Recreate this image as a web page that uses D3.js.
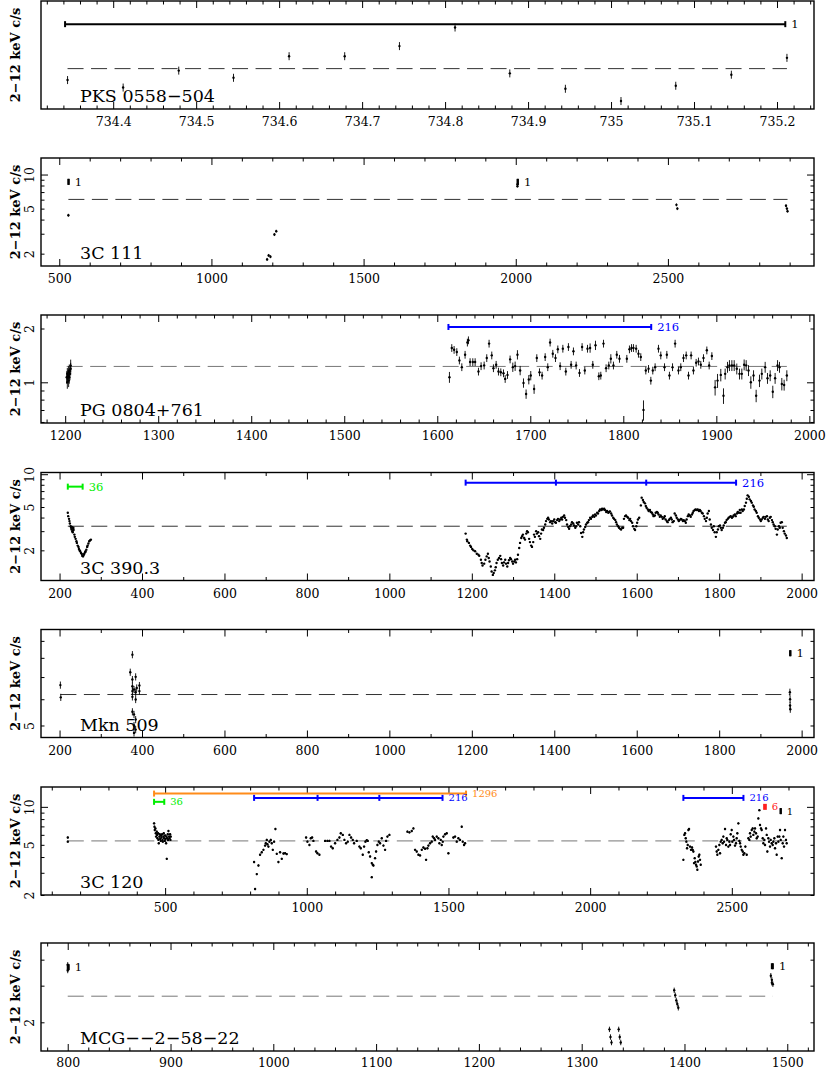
<!DOCTYPE html>
<html>
<head>
<meta charset="utf-8">
<script src="https://cdn.jsdelivr.net/npm/d3@7"></script>
<style>
  body { margin: 0; background: #fff; }
  svg text { font-family: "DejaVu Serif", serif; }
</style>
</head>
<body>
<div id="chart"></div>
<script>
// ---- data (day, 2-12 keV count rate) ----
const sourceNames = ["PKS 0558\u2212504", "3C 111", "PG 0804+761", "3C 390.3", "Mkn 509", "3C 120", "MCG\u2212\u22122\u221258\u221222"];
const meanRates = [3.394, 6.03, 1.227, 3.33, 6.20, 5.37, 2.67];
const relErr = [0.009, 0.03, 0.06, 0.012, 0.025, 0.02, 0.03];

const pks0558 = [[734.345,3.308],[734.412,3.253],[734.479,3.379],[734.545,3.325],[734.612,3.490],[734.679,3.490],[734.745,3.570],
  [734.812,3.722],[734.878,3.358],[734.945,3.244],[735.012,3.156],[735.078,3.266],[735.145,3.348],[735.212,3.477]];

const c3c111 = [[530,4.37],[1183,1.78],[1188,1.93],[1194,1.88],[1207,2.95],[1213,3.16],[2005.5,7.9],[2006,8.2],
  [2528,5.4],[2531,5.0],[2888,5.3],[2891,5.0],[2893,4.75]];

// [day, rate, relative error]
const pg0804 = [[1201.6,1.068,0.08],[1202.3,1.115,0.08],[1203.0,1.091,0.08],[1203.7,1.139,0.08],[1204.4,1.165,0.08],[1205.1,1.115,0.08],
  [1202.3,1.000,0.08],[1203.7,1.022,0.08],[1204.4,1.068,0.08],[1205.9,1.190,0.08],[1205.9,1.24,0.08],
  [1613.1,1.068,0.07],[1615.6,1.557,0.05],[1618.1,1.52,0.05],[1621.0,1.478,0.05],[1623.8,1.326,0.05],[1626.4,1.216,0.05],[1629.9,1.427,0.05],
  [1632.4,1.67,0.05],[1633.5,1.720,0.05],[1635.3,1.298,0.05],[1638.2,1.298,0.05],[1640.7,1.298,0.05],[1644.3,1.149,0.05],[1647.1,1.232,0.05],
  [1650.4,1.243,0.05],[1653.2,1.367,0.05],[1655.7,1.647,0.05],[1658.6,1.415,0.05],[1660.4,1.200,0.05],[1663.3,1.254,0.05],[1665.8,1.149,0.05],
  [1668.3,1.139,0.05],[1671.2,1.124,0.05],[1673.0,1.045,0.05],[1675.5,1.100,0.05],[1678.3,1.344,0.05],[1681.2,1.216,0.06],[1683.7,1.232,0.06],
  [1686.2,1.427,0.06],[1689.1,1.165,0.06],[1692.7,0.992,0.06],[1695.5,0.860,0.06],[1698.4,1.036,0.06],[1700.5,1.091,0.06],[1704.1,0.917,0.06],
  [1707.0,1.367,0.05],[1709.9,1.139,0.05],[1712.7,1.091,0.05],[1716.0,1.385,0.05],[1718.8,1.216,0.05],[1721.3,1.670,0.05],[1724.2,1.446,0.05],
  [1727.1,1.367,0.05],[1729.6,1.530,0.05],[1732.1,1.232,0.05],[1735.0,1.543,0.05],[1738.2,1.149,0.05],[1741.0,1.577,0.05],[1743.9,1.254,0.05],
  [1746.4,1.491,0.05],[1749.3,1.243,0.05],[1752.9,1.129,0.05],[1755.7,1.577,0.05],[1758.6,1.165,0.05],[1761.5,1.543,0.05],[1764.3,1.557,0.06],
  [1767.2,1.254,0.05],[1770.1,1.612,0.06],[1773.7,1.082,0.05],[1775.8,1.091,0.05],[1778.7,1.647,0.05],[1781.5,1.200,0.05],[1784.4,1.243,0.05],
  [1786.6,1.355,0.06],[1789.4,1.243,0.05],[1793.0,1.427,0.05],[1795.9,1.355,0.05],[1803.8,1.355,0.05],[1806.6,1.530,0.05],[1808.8,1.557,0.05],
  [1810.9,1.557,0.05],[1813.8,1.543,0.05],[1816.3,1.446,0.05],[1818.8,1.385,0.05],[1821.7,0.701,0.13],[1824.2,1.165,0.05],[1827.1,1.190,0.05],
  [1829.6,1.022,0.05],[1831.7,1.165,0.05],[1834.2,1.216,0.05],[1837.8,1.543,0.05],[1840.3,1.415,0.05],[1844.3,1.216,0.05],[1846.8,1.427,0.05],
  [1849.6,1.091,0.05],[1852.9,1.216,0.05],[1855.7,1.647,0.05],[1859.3,1.165,0.05],[1861.8,1.216,0.05],[1864.7,1.367,0.05],[1867.6,1.415,0.05],
  [1870.1,1.091,0.05],[1872.9,1.415,0.05],[1875.4,1.165,0.05],[1878.3,1.287,0.05],[1880.8,1.309,0.05],[1883.3,1.254,0.05],[1886.2,1.367,0.05],
  [1889.8,1.510,0.05],[1892.3,1.243,0.05],[1895.2,1.403,0.05],[1898.7,0.937,0.1],[1901.3,1.022,0.09],[1904.8,1.100,0.08],[1907.7,0.841,0.1],
  [1909.5,1.115,0.07],[1912.0,1.216,0.07],[1914.1,1.243,0.07],[1916.7,1.243,0.07],[1919.2,1.243,0.07],[1922.0,1.190,0.07],[1924.9,1.115,0.07],
  [1927.4,1.115,0.07],[1929.9,1.254,0.07],[1932.1,1.243,0.07],[1934.6,1.165,0.07],[1937.1,1.000,0.08],[1940.0,1.091,0.07],[1942.8,0.841,0.08],
  [1946.4,1.022,0.08],[1948.9,1.115,0.07],[1952.5,1.216,0.07],[1955.0,1.054,0.07],[1957.9,1.091,0.07],[1960.7,0.886,0.08],[1963.2,1.054,0.07],
  [1965.8,1.243,0.07],[1967.9,1.216,0.07],[1970.4,0.979,0.08],[1972.9,0.966,0.07],[1975.8,1.091,0.07]];

const c3c390 = [[220,4.43],[221,4.12],[223,3.89],[224,3.71],[225,3.53],[227,3.33],[228,3.22],[229,3.11],[230,3.28],[231,3.00],[232,2.93],
  [233,3.15],[233.5,3.22],[234,3.07],[236,2.79],[237,2.66],[239,2.55],[241,2.42],[242,2.34],[244,2.21],[246,2.15],[247,2.06],[249,2.00],
  [250,1.96],[252,1.89],[254,1.85],[255,1.78],[257,1.76],[259,1.82],[260,1.86],[262,1.92],[263,1.96],[265,2.03],[267,2.15],[268,2.21],
  [270,2.31],[272,2.42],[274,2.47],[276,2.51],
  [1185,2.85],[1188,2.51],[1189,2.42],[1193,2.34],[1196,2.21],[1198,2.15],[1201,2.06],[1204,2.00],[1208,1.96],[1212,1.86],[1216,1.82],
  [1218,1.78],[1222,1.64],[1224,1.53],[1226,1.45],[1230,1.51],[1233,1.64],[1236,1.76],[1239,1.86],[1241,1.70],[1243,1.58],[1246,1.42],
  [1248,1.28],[1251,1.19],[1253,1.24],[1256,1.31],[1258,1.40],[1260,1.53],[1263,1.64],[1266,1.70],[1269,1.78],[1271,1.66],[1273,1.53],
  [1276,1.45],[1278,1.55],[1281,1.64],[1283,1.51],[1286,1.42],[1288,1.53],[1290,1.62],[1293,1.70],[1295,1.66],[1298,1.58],[1300,1.51],
  [1303,1.58],[1305,1.64],[1307,1.55],[1310,1.66],[1312,1.82],[1315,2.10],[1317,2.34],[1320,2.60],[1322,2.70],[1324,2.79],[1327,2.60],
  [1329,2.51],[1332,2.85],[1334,3.00],[1336,2.93],[1339,2.55],[1341,2.38],[1344,2.21],[1346,2.15],[1349,2.38],[1351,2.79],[1353,2.66],
  [1356,3.00],[1358,2.85],[1361,2.93],[1363,2.70],[1366,2.55],[1368,2.85],[1370,3.11],[1373,3.07],[1375,3.22],[1378,3.45],[1380,3.71],
  [1383,3.89],[1385,3.98],[1387,3.84],[1390,3.63],[1392,3.71],[1395,3.53],[1397,3.71],[1400,3.84],[1402,3.63],[1404,3.58],[1407,3.79],
  [1409,3.89],[1412,3.71],[1414,3.84],[1417,3.98],[1419,3.84],[1421,4.06],[1424,4.18],[1426,3.98],[1429,3.79],[1431,3.45],[1434,3.28],
  [1436,3.15],[1438,3.33],[1441,3.45],[1443,3.63],[1446,3.53],[1448,3.38],[1451,3.22],[1453,3.33],[1455,3.58],[1458,3.45],[1460,3.63],
  [1463,3.33],[1465,2.89],[1468,2.66],[1470,2.93],[1472,3.11],[1475,3.28],[1477,3.45],[1480,3.58],[1482,3.63],[1484,3.79],[1487,3.98],
  [1489,3.89],[1492,4.06],[1494,4.18],[1497,4.06],[1499,4.27],[1501,4.18],[1504,4.43],[1506,4.36],[1509,4.59],[1511,4.75],[1514,4.69],
  [1516,4.82],[1518,4.75],[1521,4.82],[1523,4.69],[1526,4.50],[1528,4.59],[1531,4.43],[1533,4.50],[1535,4.56],[1538,4.36],[1540,4.18],
  [1543,3.98],[1545,3.89],[1548,3.79],[1550,3.63],[1552,3.45],[1555,3.33],[1557,3.22],[1560,3.15],[1562,3.11],[1565,3.22],[1567,3.22],
  [1569,3.89],[1572,4.12],[1574,4.18],[1577,4.06],[1579,3.98],[1582,3.79],[1584,3.89],[1586,3.71],[1589,3.58],[1591,3.33],[1594,3.15],
  [1596,3.07],[1599,3.33],[1601,3.58],[1603,3.84],[1606,3.98],[1610,5.17],[1612,6.09],[1615,5.80],[1617,5.55],[1620,5.40],[1622,5.10],
  [1624,4.92],[1627,4.75],[1629,4.59],[1632,4.69],[1634,4.50],[1637,4.43],[1639,4.27],[1641,4.12],[1644,4.18],[1646,4.43],[1649,4.50],
  [1651,4.43],[1653,4.27],[1656,4.06],[1658,4.18],[1661,4.06],[1663,3.89],[1666,3.98],[1668,4.12],[1670,3.84],[1673,3.71],[1675,3.63],
  [1678,3.79],[1680,3.89],[1683,3.98],[1685,3.84],[1687,3.63],[1690,3.71],[1692,4.36],[1695,4.18],[1697,3.98],[1700,3.84],[1702,3.71],
  [1704,3.79],[1707,3.89],[1709,3.84],[1712,3.71],[1714,3.79],[1717,3.71],[1719,3.58],[1721,3.84],[1724,4.12],[1726,4.27],[1729,4.18],
  [1731,4.06],[1734,4.27],[1736,4.43],[1738,4.59],[1741,4.69],[1743,4.75],[1746,4.69],[1748,4.75],[1751,4.59],[1753,4.69],[1755,4.59],
  [1758,4.43],[1760,4.36],[1763,4.12],[1765,3.89],[1768,3.71],[1770,3.98],[1772,4.36],[1775,4.59],[1777,3.84],[1780,3.45],[1782,3.22],
  [1785,3.07],[1787,3.33],[1789,2.93],[1792,2.66],[1794,2.93],[1797,3.11],[1799,3.33],[1802,3.38],[1804,3.22],[1806,3.07],[1809,3.22],
  [1811,3.38],[1814,3.58],[1816,3.63],[1818,3.79],[1821,3.89],[1823,3.98],[1826,4.06],[1828,4.12],[1831,3.98],[1833,4.06],[1835,4.18],
  [1838,4.27],[1840,4.12],[1843,4.36],[1845,4.50],[1848,4.43],[1850,4.69],[1852,4.43],[1855,4.75],[1857,4.59],[1860,4.75],[1862,5.10],
  [1865,5.48],[1867,5.96],[1869,6.40],[1872,6.22],[1874,5.88],[1877,5.67],[1879,5.48],[1882,5.17],[1884,5.03],[1886,4.75],[1889,4.59],
  [1891,4.43],[1894,4.12],[1896,3.98],[1899,3.84],[1901,3.71],[1903,3.84],[1906,3.98],[1908,4.06],[1911,3.89],[1913,4.06],[1916,4.12],
  [1918,3.84],[1920,3.71],[1923,3.98],[1925,4.06],[1928,3.79],[1930,3.63],[1932,3.45],[1935,3.33],[1937,3.15],[1940,2.79],[1942,3.11],
  [1945,3.33],[1947,3.22],[1949,3.58],[1952,3.63],[1954,3.22],[1957,3.00],[1959,2.85],[1962,2.74],[1964,2.60]];

const mkn509 = [[202,6.62],[203,6.08],[376.7,8.18],[371.5,7.24],[376.7,6.88],[384.6,7.01],[376.7,6.57],[380.6,6.42],[387.2,6.49],
  [393.7,6.60],[376.7,6.35],[384.6,6.30],[393.7,6.35],[376.7,6.10],[384.6,5.99],[376.7,5.50],[380.6,5.40],[384.6,5.21],[380.6,5.00],
  [384.6,4.86],[380.6,4.75],[1971.5,6.30],[1972,6.0],[1972,5.75],[1972.5,5.6]];

const c3c120 = [[156.6,5.71],[156.6,5.30],
  [461.2,7.40],[462.4,6.96],[463.5,6.55],[465.9,6.75],[467.1,6.17],[468.3,5.81],[470.6,6.36],[471.8,5.99],[473.0,5.64],[475.3,6.17],
  [476.5,5.47],[477.7,5.15],[480.0,5.81],[481.2,6.06],[482.4,5.57],[484.7,5.37],[485.9,5.92],[487.1,5.71],[489.4,6.06],[490.6,5.47],
  [491.8,5.30],[494.1,5.81],[495.3,6.17],[496.5,5.64],[498.8,5.37],[500.0,5.92],[501.2,5.57],[503.5,5.15],[504.7,5.81],[505.9,3.87],
  [507.1,5.64],[509.4,6.06],[510.6,5.47],[511.8,6.43],[514.1,5.81],[515.3,5.64],[517.6,6.06],[518.8,5.47],[520.0,5.81],
  [814.0,3.65],[817.6,2.23],[823.5,2.93],[829.4,3.43],[835.2,4.17],[841.1,4.37],[847.0,4.56],[852.9,4.93],[855.3,5.15],[858.8,5.47],
  [861.1,5.05],[864.7,4.84],[868.2,5.30],[872.9,5.47],[876.4,5.15],[880.0,4.56],[884.7,5.30],[889.3,6.67],[894.0,4.24],[899.9,3.65],
  [905.8,4.37],[911.7,3.87],[917.6,4.27],[923.4,4.29],[929.3,4.22],
  [997.6,5.71],[1002.3,5.30],[1009.3,4.99],[1014.0,5.64],[1018.8,5.71],[1023.4,5.37],[1032.9,4.42],[1037.6,4.29],[1044.6,4.17],
  [1064.6,5.37],[1072.8,5.37],[1079.9,5.37],[1085.8,4.84],[1091.6,4.70],[1099.9,5.15],[1108.1,5.47],[1115.2,5.71],[1119.9,6.17],
  [1127.0,5.99],[1132.8,5.47],[1138.7,5.15],[1144.6,5.30],[1150.5,5.99],[1156.3,5.71],[1162.2,5.47],[1166.9,5.15],[1176.3,5.37],
  [1185.7,4.84],[1190.5,4.70],[1197.5,4.17],[1202.2,4.84],[1206.9,5.30],[1211.6,5.44],[1215.2,5.37],[1218.7,4.37],[1223.4,4.04],
  [1229.3,3.58],[1229.3,2.77],[1232.8,3.47],[1235.2,3.43],[1241.0,3.92],[1244.6,4.42],[1249.3,4.99],[1254.0,5.30],[1258.7,5.15],
  [1264.6,5.64],[1270.5,4.93],[1276.3,4.56],[1279.9,5.37],[1284.6,5.81],[1291.6,5.99],
  [1355.1,6.36],[1362.2,6.28],[1370.4,6.43],[1376.3,6.75],[1382.2,4.56],[1388.0,4.42],[1393.9,4.17],[1399.8,4.12],[1405.7,4.56],
  [1411.5,4.76],[1417.4,4.65],[1421.0,3.80],[1425.7,4.70],[1429.2,4.93],[1435.1,5.15],[1441.0,5.30],[1444.5,5.81],[1449.2,5.64],
  [1452.7,5.47],[1458.6,5.81],[1464.5,5.64],[1468.0,5.15],[1472.7,5.47],[1476.2,4.99],[1479.8,5.30],[1482.1,5.81],[1488.0,6.06],
  [1493.9,6.17],[1499.8,4.29],[1517.4,5.71],[1523.3,5.81],[1529.2,5.30],[1535.0,5.64],[1540.9,5.47],[1546.8,6.96],[1550.3,5.30],
  [1555.0,4.99],[1558.6,5.15],
  [2329.0,3.80],[2332.5,5.99],[2334.9,6.17],[2337.3,5.64],[2339.6,5.30],[2342.0,4.70],[2344.3,4.99],[2346.7,6.55],[2349.0,6.67],
  [2352.5,4.84],[2356.0,4.56],[2359.6,4.76],[2361.9,4.56],[2364.3,4.42],[2366.6,3.58],[2369.0,3.92],[2371.3,3.65],[2373.7,3.47],
  [2376.0,3.37],[2378.4,3.17],[2380.7,3.69],[2383.1,4.04],[2385.4,4.17],[2387.8,3.80],[2390.2,3.47],
  [2444.2,4.84],[2446.6,4.42],[2448.9,4.17],[2452.5,4.56],[2456.0,4.99],[2458.4,4.29],[2460.7,5.30],[2464.2,5.47],[2467.8,5.15],
  [2470.1,5.81],[2472.5,5.30],[2476.0,6.67],[2479.5,4.99],[2481.9,5.64],[2484.2,5.47],[2487.8,4.84],[2491.3,5.30],[2493.7,4.99],
  [2496.0,6.06],[2499.5,6.55],[2501.9,5.30],[2505.4,5.81],[2507.8,5.47],[2511.3,4.93],[2514.8,5.15],[2517.2,5.64],[2519.5,6.17],
  [2523.1,7.40],[2526.6,5.37],[2529.0,5.15],[2531.3,4.84],[2534.8,4.56],[2538.4,4.42],[2540.7,4.17],[2544.2,4.29],[2547.8,4.84],
  [2552.5,4.17],[2558.4,5.64],[2561.9,5.47],[2564.2,6.17],[2566.6,5.81],[2570.1,6.55],[2573.6,6.75],[2576.0,5.99],[2579.5,6.36],
  [2581.9,6.75],[2585.4,6.17],[2587.8,5.64],[2591.3,5.81],[2593.6,8.10],[2597.2,9.42],[2599.5,7.18],[2603.0,6.75],[2605.4,6.55],
  [2608.9,5.64],[2611.3,5.15],[2614.8,5.47],[2617.2,4.99],[2620.7,6.75],[2623.1,5.99],[2625.4,4.42],[2628.9,5.64],[2631.3,5.30],
  [2634.8,4.84],[2637.2,5.47],[2640.7,5.15],[2644.2,4.99],[2646.6,5.30],[2650.1,5.64],[2652.5,4.70],[2656.0,5.15],[2658.3,4.17],
  [2661.9,5.81],[2664.2,5.30],[2667.7,5.81],[2670.1,6.55],[2672.5,5.47],[2676.0,3.92],[2679.5,5.15],[2681.9,5.81],[2684.2,4.84],
  [2687.7,6.55],[2691.2,5.47],[2693.6,5.15]];

const mcg2 = [[800,3.78],[800,3.55],[1327,1.85],[1328,1.7],[1329,1.6],[1336,1.85],[1337,1.7],[1338,1.6],
  [1390,2.85],[1391,2.7],[1392,2.55],[1393,2.45],[1394,2.35],[1484,3.35],[1485,3.2],[1486,3.05],[1485,3.1]];

// timescale bars: [from, to, rate, label, intermediate steps]
const pksBars = [[734.342, 735.210, 3.75, "1", []]];
const c3c111Bars = [[530, 531, 8.62, "1", []], [2006, 2007, 8.62, "1", []]];
const pg0804Bars = [[1612, 1830, 2.04, "216", []]];
const c3c390Bars = [[220, 256, 7.69, "36", []], [1185, 1841, 8.37, "216", [1404, 1623]]];
const mkn509Bars = [[1972, 1973, 8.26, "1", []]];
const c3c120Bars = [[461, 1562, 12.74, "1296", []], [461, 497, 10.96, "36", []], [814, 1479, 11.78, "216", [1038, 1256]],
  [2329, 2541, 11.78, "216", []], [2614, 2620, 10.0, "6", []], [2672, 2673, 9.25, "1", []]];
const mcg2Bars = [[800, 801, 3.68, "1", []], [1485, 1486, 3.72, "1", []]];

// axis extents and tick steps
const xDomains = [[734.313, 735.2446], [440, 2980], [1174, 2005], [155, 2030], [155, 2030], [62, 2790], [774, 1526]];
const yDomains = [[3.1, 3.95], [1.556, 14.0], [0.592, 2.38], [1.057, 10.37], [4.6, 9.74], [2.0, 14.37], [1.456, 4.81]];
const xMajor = [0.1, 500, 100, 200, 200, 500, 100];
const xMinor = [0.02, 100, 20, 100, 100, 100, 20];

const barColors = {"1": "#000", "36": "#00ee00", "216": "#0000ff", "1296": "#ff8c1a", "6": "#ff2020"};

const series = [pks0558, c3c111, pg0804, c3c390, mkn509, c3c120, mcg2];
const barSets = [pksBars, c3c111Bars, pg0804Bars, c3c390Bars, mkn509Bars, c3c120Bars, mcg2Bars];
const dashColors = ["#333", "#333", "#777", "#333", "#333", "#777", "#777"];

// ---- layout ----
const W = 830, H = 1070;
const left = 41, right = 814, ph = 108;
const tops = [1, 158, 315, 472.5, 629.5, 787, 943];

const svg = d3.select("#chart").append("svg").attr("width", W).attr("height", H);

function stepsIn(dom, step) {
  const out = [];
  for (let k = Math.ceil(dom[0] / step - 1e-9); k * step <= dom[1] + 1e-9; k++) out.push(+(k * step).toFixed(4));
  return out;
}
function logTicks(dom) {
  const out = [];
  for (let e = Math.floor(Math.log10(dom[0])); e <= Math.ceil(Math.log10(dom[1])); e++) {
    for (let m = 1; m <= 9; m++) {
      const v = +(m * Math.pow(10, e)).toPrecision(6);
      if (v >= dom[0] && v <= dom[1]) out.push(v);
    }
  }
  return out;
}
function firstDigit(v) { return Math.round(v / Math.pow(10, Math.floor(Math.log10(v) + 1e-9))); }

function tickAxis(g, axis, transform) {
  const a = g.append("g").attr("transform", transform).call(axis);
  a.select(".domain").remove();
  a.selectAll(".tick line").attr("stroke", "#000").attr("stroke-width", 1);
  return a;
}

sourceNames.forEach((name, i) => {
  const top = tops[i], bottom = top + ph;
  const x = d3.scaleLinear().domain(xDomains[i]).range([left, right]);
  const y = d3.scaleLog().domain(yDomains[i]).range([bottom, top]);
  const g = svg.append("g");

  // x ticks, bottom and top
  const majors = stepsIn(xDomains[i], xMajor[i]);
  const minors = stepsIn(xDomains[i], xMinor[i]).filter(v => !majors.some(m => Math.abs(m - v) < 1e-6));
  const labelY = Math.min(17, H - 3.5 - bottom);
  const xb = tickAxis(g, d3.axisBottom(x).tickValues(majors).tickSize(-7).tickSizeOuter(0)
    .tickFormat(d => String(+d.toFixed(2))), `translate(0,${bottom})`);
  xb.selectAll("text").attr("y", labelY).attr("dy", null).attr("fill", "#000")
    .attr("font-family", "DejaVu Serif").attr("font-size", 12.5);
  tickAxis(g, d3.axisBottom(x).tickValues(minors).tickSize(-3.5).tickFormat(""), `translate(0,${bottom})`);
  tickAxis(g, d3.axisTop(x).tickValues(majors).tickSize(-7).tickFormat(""), `translate(0,${top})`);
  tickAxis(g, d3.axisTop(x).tickValues(minors).tickSize(-3.5).tickFormat(""), `translate(0,${top})`);

  // y log ticks, left and right
  const lt = logTicks(yDomains[i]);
  const yMaj = lt.filter(v => firstDigit(v) === 1);
  const yMin = lt.filter(v => firstDigit(v) !== 1);
  const yLab = lt.filter(v => [1, 2, 5].includes(firstDigit(v)));
  tickAxis(g, d3.axisLeft(y).tickValues(yMaj).tickSize(-7).tickFormat(""), `translate(${left},0)`);
  tickAxis(g, d3.axisLeft(y).tickValues(yMin).tickSize(-3.5).tickFormat(""), `translate(${left},0)`);
  tickAxis(g, d3.axisRight(y).tickValues(yMaj).tickSize(-7).tickFormat(""), `translate(${right},0)`);
  tickAxis(g, d3.axisRight(y).tickValues(yMin).tickSize(-3.5).tickFormat(""), `translate(${right},0)`);
  const yl = tickAxis(g, d3.axisLeft(y).tickValues(yLab).tickSize(0).tickFormat(d => String(d)), `translate(${left},0)`);
  yl.selectAll("text").attr("x", null).attr("dy", null).attr("text-anchor", "middle")
    .attr("transform", "translate(-7,0) rotate(-90)").attr("fill", "#000")
    .attr("font-family", "DejaVu Serif").attr("font-size", 12.5);

  // frame
  g.append("rect").attr("x", left).attr("y", top).attr("width", right - left).attr("height", ph)
    .attr("fill", "none").attr("stroke", "#000").attr("stroke-width", 1.4);

  // mean level, dashed across the data span
  const pts = series[i];
  const ext = d3.extent(pts, d => d[0]);
  g.append("line").attr("x1", x(ext[0])).attr("x2", x(ext[1]))
    .attr("y1", y(meanRates[i])).attr("y2", y(meanRates[i]))
    .attr("stroke", dashColors[i]).attr("stroke-width", 1).attr("stroke-dasharray", "16,7.5");

  // error bars and points
  g.selectAll("line.err").data(pts).join("line").attr("class", "err")
    .attr("x1", d => x(d[0])).attr("x2", d => x(d[0]))
    .attr("y1", d => y(d[1] * (1 - (d[2] || relErr[i])))).attr("y2", d => y(d[1] * (1 + (d[2] || relErr[i]))))
    .attr("stroke", "#000").attr("stroke-width", 0.9);
  g.selectAll("circle.pt").data(pts).join("circle").attr("class", "pt")
    .attr("cx", d => x(d[0])).attr("cy", d => y(d[1])).attr("r", 1.2).attr("fill", "#000");

  // timescale bars
  barSets[i].forEach(b => {
    const col = barColors[b[3]];
    const yy = y(b[2]);
    g.append("line").attr("x1", x(b[0])).attr("x2", x(b[1])).attr("y1", yy).attr("y2", yy)
      .attr("stroke", col).attr("stroke-width", 2);
    [b[0], b[1]].concat(b[4]).forEach(t => {
      g.append("line").attr("x1", x(t)).attr("x2", x(t)).attr("y1", yy - 3).attr("y2", yy + 3)
        .attr("stroke", col).attr("stroke-width", 2);
    });
    g.append("text").attr("x", x(b[1]) + 6).attr("y", yy).attr("dy", "0.35em")
      .attr("fill", col)
      .attr("font-family", b[3] === "1" ? "DejaVu Serif" : "Liberation Sans")
      .attr("font-size", i === 5 ? 10 : 11.5)
      .text(b[3]);
  });

  // source name
  g.append("text").attr("x", 80).attr("y", bottom - 7).attr("font-size", 17.5).attr("fill", "#000").text(name);

  // y title
  g.append("text").attr("transform", `translate(20,${(top + bottom) / 2}) rotate(-90)`)
    .attr("text-anchor", "middle").attr("font-weight", "bold").attr("font-size", 13)
    .text("2\u221212 keV c/s");
});
</script>
</body>
</html>
